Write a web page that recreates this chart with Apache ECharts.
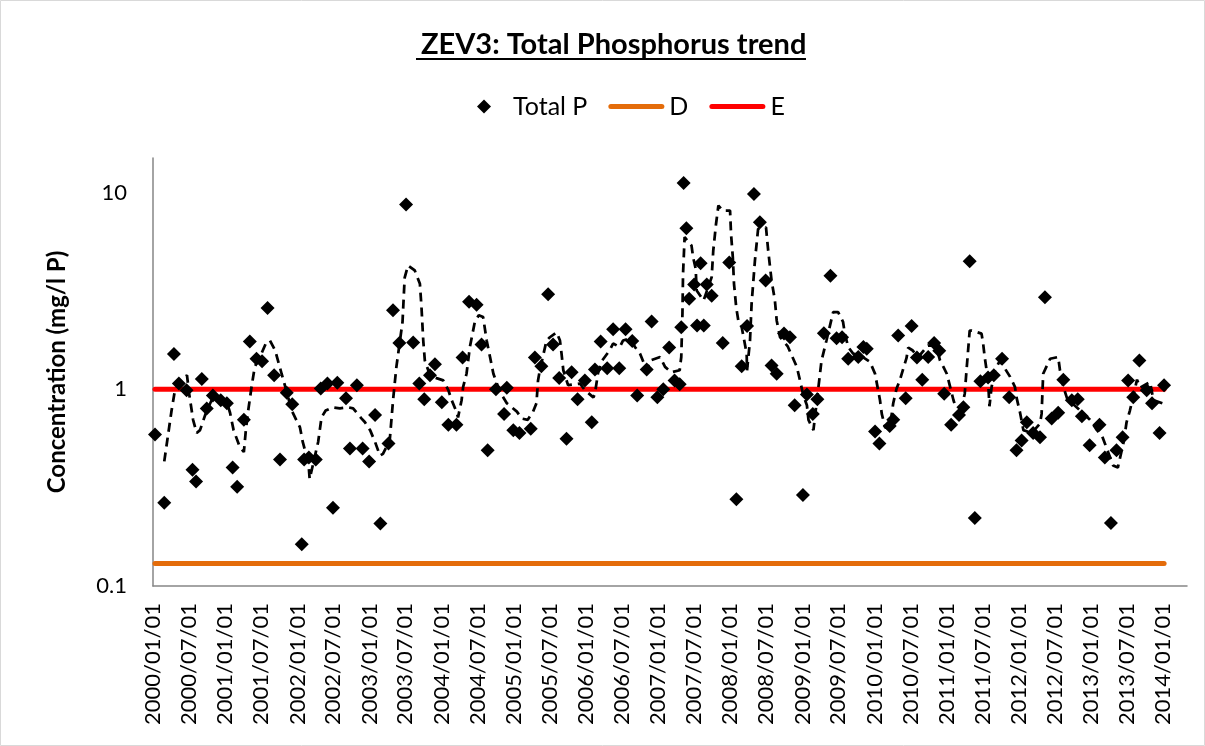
<!DOCTYPE html>
<html>
<head>
<meta charset="utf-8">
<script src="https://cdn.jsdelivr.net/npm/echarts@6/dist/echarts.min.js"></script>
<style>
  html, body { margin: 0; padding: 0; background: #fff; }
  #chart { width: 1205px; height: 746px; }
</style>
</head>
<body>
<div id="chart"></div>
<script>
// sample dates and Total P values (mg/l P)
const sampleDates = [
  '2000-01-11','2000-02-27','2000-04-16','2000-05-11','2000-06-19','2000-07-19','2000-08-06','2000-09-04','2000-09-29','2000-10-30',
  '2000-12-09','2001-01-09','2001-02-07','2001-03-02','2001-04-05','2001-05-05','2001-06-08','2001-07-06','2001-08-03','2001-09-05',
  '2001-10-05','2001-11-08','2001-12-06','2002-01-23','2002-02-04','2002-02-28','2002-04-04','2002-04-29','2002-06-02','2002-06-30',
  '2002-07-22','2002-09-04','2002-09-24','2002-10-29','2002-11-27','2002-12-30','2003-01-29','2003-02-25','2003-04-07','2003-04-30',
  '2003-06-01','2003-07-05','2003-08-10','2003-09-10','2003-10-05','2003-11-03','2003-11-28','2004-01-02','2004-02-04','2004-03-16',
  '2004-04-16','2004-05-19','2004-06-26','2004-07-21','2004-08-21','2004-10-02','2004-11-12','2004-11-26','2004-12-29','2005-01-29',
  '2005-03-27','2005-04-17','2005-05-20','2005-06-23','2005-07-18','2005-08-18','2005-09-24','2005-10-20','2005-11-19','2005-12-26',
  '2006-01-30','2006-02-15','2006-03-16','2006-04-18','2006-05-18','2006-06-18','2006-07-20','2006-08-23','2006-09-17','2006-11-04',
  '2006-11-29','2006-12-28','2007-01-27','2007-02-26','2007-03-25','2007-04-20','2007-04-28','2007-05-10','2007-05-24','2007-06-07',
  '2007-07-02','2007-07-17','2007-08-04','2007-08-20','2007-09-04','2007-09-29','2007-11-24','2007-12-27','2008-02-01','2008-02-28',
  '2008-03-26','2008-04-30','2008-05-30','2008-06-28','2008-07-28','2008-08-23','2008-09-29','2008-10-29','2008-11-22','2009-01-03',
  '2009-01-23','2009-02-22','2009-03-17','2009-04-19','2009-05-22','2009-06-22','2009-07-20','2009-08-20','2009-10-10','2009-11-05',
  '2009-11-22','2010-01-03','2010-01-25','2010-03-18','2010-04-05','2010-04-30','2010-06-07','2010-07-07','2010-08-03','2010-08-30',
  '2010-09-29','2010-10-29','2010-11-24','2010-12-19','2011-01-23','2011-03-04','2011-03-26','2011-04-27','2011-05-23','2011-06-20',
  '2011-07-29','2011-08-27','2011-10-08','2011-11-13','2011-12-20','2012-01-15','2012-02-10','2012-03-13','2012-04-17','2012-05-12',
  '2012-06-15','2012-07-18','2012-08-13','2012-09-25','2012-10-25','2012-11-15','2012-12-24','2013-02-12','2013-03-11','2013-04-11',
  '2013-05-09','2013-06-09','2013-07-07','2013-08-02','2013-09-02','2013-10-09','2013-11-05','2013-12-13','2014-01-05'
];
const totalP = [
  0.59, 0.265, 1.51, 1.07, 0.99, 0.39, 0.34, 1.13, 0.80, 0.93,
  0.88, 0.85, 0.40, 0.32, 0.70, 1.75, 1.43, 1.39, 2.59, 1.18,
  0.44, 0.96, 0.84, 0.163, 0.44, 0.45, 0.44, 1.01, 1.07, 0.25,
  1.08, 0.90, 0.50, 1.05, 0.50, 0.43, 0.74, 0.208, 0.53, 2.52,
  1.72, 8.7, 1.73, 1.07, 0.89, 1.18, 1.34, 0.86, 0.66, 0.66,
  1.45, 2.79, 2.69, 1.69, 0.49, 1.0, 0.75, 1.02, 0.62, 0.60,
  0.63, 1.45, 1.31, 3.04, 1.69, 1.14, 0.56, 1.22, 0.89, 1.11,
  0.68, 1.26, 1.75, 1.28, 2.02, 1.28, 2.02, 1.76, 0.93, 1.26,
  2.21, 0.91, 1.0, 1.63, 1.11, 1.06, 2.07, 11.2, 6.6, 2.89,
  3.41, 2.11, 4.38, 2.11, 3.41, 2.99, 1.72, 4.41, 0.276, 1.31,
  2.10, 9.85, 7.07, 3.58, 1.32, 1.20, 1.92, 1.84, 0.83, 0.29,
  0.94, 0.75, 0.89, 1.93, 3.78, 1.82, 1.84, 1.43, 1.46, 1.64,
  1.61, 0.61, 0.53, 0.65, 0.70, 1.88, 0.90, 2.10, 1.45, 1.12,
  1.46, 1.72, 1.57, 0.95, 0.66, 0.74, 0.81, 4.48, 0.222, 1.10,
  1.15, 1.18, 1.43, 0.91, 0.49, 0.55, 0.68, 0.60, 0.57, 2.94,
  0.71, 0.76, 1.12, 0.88, 0.89, 0.73, 0.52, 0.66, 0.45, 0.209,
  0.49, 0.57, 1.11, 0.91, 1.40, 0.99, 0.85, 0.60, 1.05
];

// dashed trend line, vertices
const trendDates = [
  '2000-02-27','2000-04-04','2000-04-21','2000-05-11','2000-06-21','2000-07-02','2000-07-22','2000-08-09','2000-08-26','2000-09-25',
  '2000-10-30','2000-12-09','2001-01-09','2001-01-25','2001-02-12','2001-03-15','2001-04-05','2001-04-15','2001-04-27','2001-05-14',
  '2001-05-30','2001-07-03','2001-07-25','2001-08-15','2001-09-10','2001-10-13','2001-11-08','2001-12-03','2002-01-14','2002-01-28',
  '2002-02-26','2002-03-04','2002-04-16','2002-05-03','2002-05-24','2002-06-29','2002-08-04','2002-09-15','2002-10-10','2002-11-22',
  '2002-12-09','2003-01-04','2003-01-29','2003-02-23','2003-03-10','2003-04-05','2003-04-14','2003-04-30','2003-05-17','2003-06-17',
  '2003-06-28','2003-07-15','2003-08-18','2003-09-13','2003-09-21','2003-09-30','2003-10-08','2003-11-03','2003-12-06','2004-01-09',
  '2004-02-04','2004-02-21','2004-03-16','2004-03-24','2004-04-11','2004-04-19','2004-05-06','2004-05-23','2004-06-17','2004-07-07',
  '2004-07-29','2004-08-16','2004-09-02','2004-09-19','2004-10-22','2004-11-26','2005-01-16','2005-02-10','2005-03-12','2005-04-08',
  '2005-04-25','2005-05-03','2005-05-12','2005-06-15','2005-07-02','2005-08-05','2005-08-22','2005-08-30','2005-09-08','2005-10-02',
  '2005-12-01','2005-12-26','2006-02-07','2006-02-15','2006-03-02','2006-03-19','2006-05-01','2006-05-18','2006-06-21','2006-07-07',
  '2006-08-11','2006-09-06','2006-10-01','2006-11-04','2006-11-21','2007-01-11','2007-02-05','2007-03-09','2007-04-20','2007-04-28',
  '2007-05-04','2007-05-07','2007-05-15','2007-06-19','2007-06-27','2007-07-10','2007-07-15','2007-08-19','2007-09-29','2007-10-07',
  '2007-10-21','2007-11-02','2007-11-24','2007-12-31','2008-01-05','2008-01-14','2008-01-20','2008-01-31','2008-02-12','2008-02-28',
  '2008-03-24','2008-03-26','2008-04-10','2008-04-18','2008-05-05','2008-05-21','2008-06-30','2008-07-11','2008-07-28','2008-08-14',
  '2008-08-23','2008-09-09','2008-10-17','2008-12-03','2008-12-19','2009-01-05','2009-01-23','2009-01-31','2009-02-25','2009-04-07',
  '2009-05-02','2009-06-05','2009-06-30','2009-07-25','2009-08-03','2009-08-20','2009-09-14','2009-10-18','2009-12-08','2010-01-03',
  '2010-01-28','2010-02-06','2010-02-23','2010-03-18','2010-04-05','2010-04-22','2010-05-08','2010-06-11','2010-06-20','2010-07-11',
  '2010-08-10','2010-09-28','2010-11-08','2010-11-28','2010-12-15','2011-01-01','2011-01-18','2011-02-04','2011-02-12','2011-03-17',
  '2011-04-02','2011-04-11','2011-04-19','2011-04-27','2011-05-08','2011-06-26','2011-07-04','2011-07-12','2011-07-29','2011-08-05',
  '2011-08-16','2011-09-02','2011-09-27','2011-11-17','2011-12-12','2011-12-20','2012-01-07','2012-01-24','2012-03-07','2012-04-17',
  '2012-04-25','2012-05-03','2012-06-07','2012-07-18','2012-07-27','2012-08-13','2012-09-01','2012-11-06','2012-12-26','2013-01-30',
  '2013-02-25','2013-04-22','2013-05-16','2013-06-16','2013-06-29','2013-07-16','2013-08-21','2013-09-06','2013-10-26','2013-11-12',
  '2014-01-10'
];
const trendValues = [
  0.43, 0.78, 0.99, 1.07, 1.18, 0.95, 0.70, 0.60, 0.62, 0.76,
  0.91, 0.90, 0.86, 0.76, 0.62, 0.51, 0.48, 0.62, 0.78, 1.03,
  1.30, 1.52, 1.71, 1.77, 1.58, 1.20, 0.97, 0.78, 0.64, 0.54,
  0.42, 0.35, 0.54, 0.72, 0.78, 0.81, 0.80, 0.81, 0.80, 0.71,
  0.68, 0.62, 0.54, 0.46, 0.47, 0.53, 0.56, 0.88, 1.30, 2.20,
  3.7, 4.26, 4.02, 3.44, 2.62, 1.77, 1.40, 1.18, 1.14, 1.11,
  0.99, 0.88, 0.77, 0.72, 0.88, 1.03, 1.20, 1.64, 2.20, 2.38,
  2.33, 1.77, 1.46, 1.20, 0.97, 0.85, 0.77, 0.71, 0.70, 0.77,
  0.85, 1.11, 1.25, 1.77, 1.84, 1.95, 1.77, 1.52, 1.25, 1.05,
  1.07, 0.99, 0.91, 0.95, 1.20, 1.38, 1.58, 1.71, 1.64, 1.77,
  1.81, 1.64, 1.52, 1.25, 1.40, 1.46, 1.30, 1.22, 1.25, 1.46,
  2.42, 3.87, 5.94, 5.38, 4.69, 4.10, 3.18, 2.83, 3.72, 5.08,
  6.93, 8.6, 8.1, 8.1, 6.17, 4.69, 3.44, 2.62, 2.20, 2.07,
  1.52, 1.25, 1.77, 2.72, 4.52, 6.54, 6.66, 5.08, 3.58, 2.83,
  2.24, 1.84, 1.66, 1.30, 1.11, 0.93, 0.83, 0.70, 0.62, 1.40,
  1.77, 2.47, 2.47, 2.20, 1.92, 1.64, 1.52, 1.49, 1.38, 1.20,
  0.88, 0.75, 0.64, 0.63, 0.85, 1.01, 1.11, 1.44, 1.63, 1.58,
  1.46, 1.67, 1.67, 1.40, 1.30, 1.20, 1.03, 0.88, 0.83, 0.80,
  0.95, 1.25, 1.58, 1.99, 1.99, 1.92, 1.71, 1.46, 1.11, 0.82,
  1.03, 1.25, 1.40, 1.16, 1.03, 0.91, 0.76, 0.62, 0.60, 0.67,
  0.75, 1.20, 1.43, 1.46, 1.25, 1.03, 0.90, 0.78, 0.70, 0.62,
  0.58, 0.41, 0.40, 0.55, 0.68, 0.78, 1.12, 1.02, 1.09, 0.88,
  0.84
];

// guideline levels
const limitD = 0.13;
const limitE = 1.0;

const xTickLabels = [
  '2000/01/01','2000/07/01','2001/01/01','2001/07/01','2002/01/01','2002/07/01','2003/01/01','2003/07/01',
  '2004/01/01','2004/07/01','2005/01/01','2005/07/01','2006/01/01','2006/07/01','2007/01/01','2007/07/01',
  '2008/01/01','2008/07/01','2009/01/01','2009/07/01','2010/01/01','2010/07/01','2011/01/01','2011/07/01',
  '2012/01/01','2012/07/01','2013/01/01','2013/07/01','2014/01/01'
];
const yTickLabels = [0.1, 1, 10];

const FONT = 'Lato, "Open Sans", sans-serif';
const pad = n => (n < 10 ? '0' : '') + n;
// date string (yyyy-mm-dd or yyyy/mm/dd) -> timestamp
const toTime = s => {
  const p = s.split(/[-\/]/).map(Number);
  return new Date(p[0], p[1] - 1, p[2]).getTime();
};

// legend icons in a 56x14 box, like the Excel legend
const diamondIcon = 'path://M0,0h0M56,14h0M25,7L32,0L39,7L32,14Z';
const lineIcon = 'path://M0,0h0M56,14h0M2.5,4.5H53.5A2.5,2.5,0,0,1,53.5,9.5H2.5A2.5,2.5,0,0,1,2.5,4.5Z';

const chart = echarts.init(document.getElementById('chart'));

const firstDate = toTime(sampleDates[0]);
const lastDate = toTime(sampleDates[sampleDates.length - 1]);

chart.setOption({
  animation: false,
  backgroundColor: '#fff',
  textStyle: { fontFamily: FONT, color: '#000' },
  title: {
    text: 'ZEV3: Total Phosphorus trend',
    left: 416,
    top: 25,
    textStyle: { fontFamily: FONT, fontSize: 29, fontWeight: 'bold', color: '#000' }
  },
  graphic: [
    { type: 'rect', shape: { x: 0.5, y: 0.5, width: 1204, height: 745 }, style: { fill: 'none', stroke: '#d9d9d9', lineWidth: 1 } },
    { type: 'line', shape: { x1: 416, y1: 59, x2: 806, y2: 59 }, style: { stroke: '#000', lineWidth: 2 } }
  ],
  legend: {
    left: 447,
    top: 89,
    itemWidth: 56,
    itemHeight: 14,
    itemGap: 21,
    textStyle: { fontFamily: FONT, fontSize: 25, color: '#000' },
    data: [
      { name: 'Total P', icon: diamondIcon },
      { name: 'D', icon: lineIcon },
      { name: 'E', icon: lineIcon }
    ]
  },
  grid: { left: 153, right: 18, top: 158, bottom: 160, containLabel: false },
  xAxis: {
    type: 'value',
    min: toTime('2000-01-01'),
    max: toTime('2014-05-01'),
    axisLine: { onZero: false, lineStyle: { color: '#868686', width: 1.5 } },
    axisTick: { show: false },
    splitLine: { show: false },
    axisLabel: {
      customValues: xTickLabels.map(toTime),
      rotate: 90,
      margin: 17,
      fontFamily: FONT,
      fontSize: 22,
      color: '#000',
      formatter: v => {
        const d = new Date(v);
        return d.getFullYear() + '/' + pad(d.getMonth() + 1) + '/' + pad(d.getDate());
      }
    }
  },
  yAxis: {
    type: 'log',
    logBase: 10,
    min: 0.1,
    max: 15,
    name: 'Concentration (mg/l P)',
    nameLocation: 'middle',
    nameGap: 84,
    nameTextStyle: { fontFamily: FONT, fontSize: 24, fontWeight: 'bold', color: '#000' },
    axisLine: { show: true, lineStyle: { color: '#868686', width: 1.5 } },
    axisTick: { show: false },
    splitLine: { show: false },
    axisLabel: {
      margin: 26,
      fontFamily: FONT,
      fontSize: 22,
      color: '#000',
      formatter: v => {
        const hit = yTickLabels.find(t => Math.abs(Math.log10(v) - Math.log10(t)) < 1e-6);
        return hit === undefined ? '' : String(hit);
      }
    }
  },
  series: [
    {
      name: 'D',
      type: 'line',
      z: 1,
      symbol: 'none',
      lineStyle: { color: '#E46C0A', width: 5, cap: 'round' },
      itemStyle: { color: '#E46C0A' },
      data: [[firstDate, limitD], [lastDate, limitD]]
    },
    {
      name: 'E',
      type: 'line',
      z: 1,
      symbol: 'none',
      lineStyle: { color: '#FF0000', width: 5, cap: 'round' },
      itemStyle: { color: '#FF0000' },
      data: [[firstDate, limitE], [lastDate, limitE]]
    },
    {
      name: 'Total P',
      type: 'scatter',
      z: 2,
      symbol: 'diamond',
      symbolSize: 14,
      itemStyle: { color: '#000', opacity: 1 },
      data: sampleDates.map((d, i) => [toTime(d), totalP[i]])
    },
    {
      name: 'trend',
      type: 'line',
      z: 3,
      symbol: 'none',
      lineStyle: { color: '#000', width: 2.75, type: [9, 6] },
      data: trendDates.map((d, i) => [toTime(d), trendValues[i]])
    }
  ]
});
</script>
</body>
</html>
